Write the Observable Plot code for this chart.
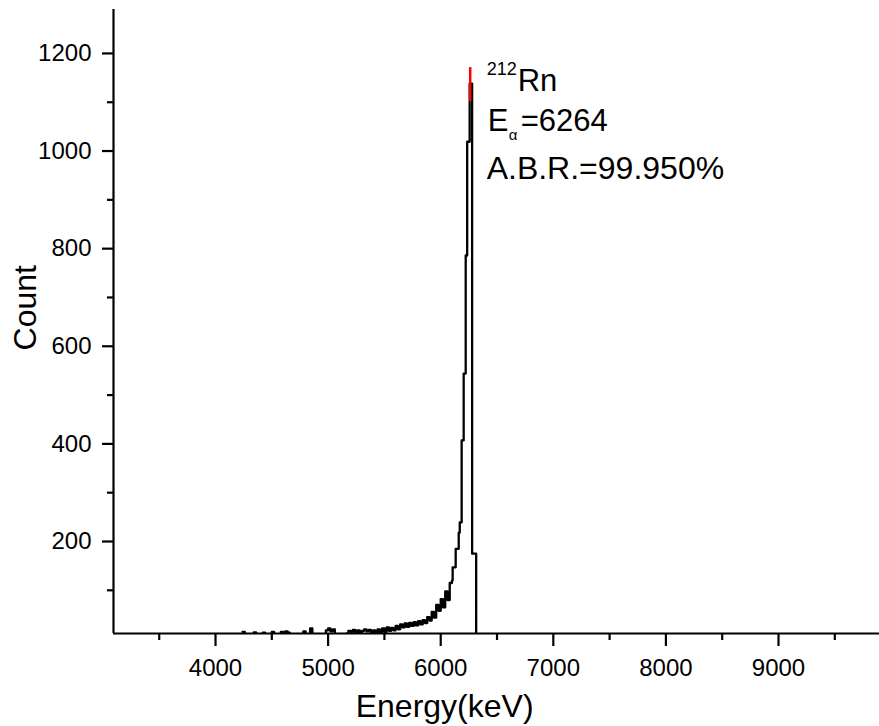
<!DOCTYPE html>
<html>
<head>
<meta charset="utf-8">
<script src="https://cdn.jsdelivr.net/npm/d3@7"></script>
<script src="https://cdn.jsdelivr.net/npm/@observablehq/plot@0.6"></script>
<style>
  html, body { margin: 0; padding: 0; background: #fff; }
  #chart svg { display: block; }
</style>
</head>
<body>
<div id="chart"></div>
<script>
// ---- data ----
// tail of the spectrum: regular 20 keV bins starting at 4240 keV
const tailStart = 4240;
const tailBinWidth = 20;
const tailCounts = [
  15, 2, 0, 4, 1, 14, 3, 0, 2, 13,
  1, 4, 2, 15, 3, 5, 2, 15, 14, 16,
  13, 4, 6, 3, 5, 7, 4, 16, 6, 5,
  22, 8, 6, 9, 5, 8, 7, 18, 22, 16,
  20, 9, 8, 10, 7, 9, 11, 17, 15, 19,
  14, 18, 13, 17, 20, 16, 19, 14, 18, 12,
  20, 14, 22, 15, 24, 17, 23, 18, 27, 20,
  30, 24, 32, 25, 33, 27, 35, 28, 37, 30,
  39, 33, 45, 38, 56, 44, 70, 58, 82, 65,
  98, 80, 115
];
// peak region: bin edges (keV) and counts
const peakEdges  = [6100, 6106, 6133, 6160, 6169, 6186, 6204, 6222, 6235, 6257, 6279, 6315];
const peakCounts = [ 120,  147,  185,  218,  239,  407,  544,  786, 1019, 1138,  175,    0];

// red peak marker
const redEnergy = [6262];
const redLow = 1101;
const redHigh = 1171;

// axes
const xDomain = [3094, 9897];
const yDomain = [11.5, 1290];
const xMajor = [4000, 5000, 6000, 7000, 8000, 9000];
const xMinor = [3500, 4500, 5500, 6500, 7500, 8500, 9500];
const yMajor = [200, 400, 600, 800, 1000, 1200];
const yMinor = [100, 300, 500, 700, 900, 1100];
const xLabel = "Energy(keV)";
const yLabel = "Count";

// annotation
const isotopeMass = "212";
const isotopeName = "Rn";
const energySymbol = "E";
const energySub = "\u03b1";
const energyValue = "=6264";
const branchText = "A.B.R.=99.950%";
const annotX = 6408;

// ---- build table ----
const spectrum = tailCounts.map((c, i) => ({energy: tailStart + i * tailBinWidth, count: c}))
  .concat(peakEdges.map((e, i) => ({energy: e, count: peakCounts[i]})))
  .concat([{energy: 6400, count: 0}]);

const font = "'Liberation Sans', Arial, sans-serif";

const chart = Plot.plot({
  width: 879,
  height: 726,
  marginLeft: 113,
  marginRight: 0,
  marginTop: 9,
  marginBottom: 93,
  style: {fontFamily: font, color: "#000", background: "#fff"},
  x: {domain: xDomain, axis: null},
  y: {domain: yDomain, axis: null},
  marks: [
    Plot.line(spectrum, {x: "energy", y: "count", curve: "step-after", stroke: "#000", strokeWidth: 2.3, clip: true}),
    Plot.ruleX(redEnergy, {x: d => d, y1: redLow, y2: redHigh, stroke: "#ff0000", strokeWidth: 2.5}),
    // axis lines
    Plot.ruleX([xDomain[0]], {stroke: "#000", strokeWidth: 2.2}),
    Plot.ruleY([yDomain[0]], {stroke: "#000", strokeWidth: 2.2}),
    // x ticks
    Plot.axisX({ticks: xMajor, tickSize: 13, tickPadding: 12, fontSize: 24, strokeWidth: 2.2, tickFormat: d => String(d), label: null}),
    Plot.axisX({ticks: xMinor, tickSize: 7, strokeWidth: 2.2, tickFormat: null, text: null, label: null}),
    // y ticks
    Plot.axisY({ticks: yMajor, tickSize: 11, tickPadding: 11, fontSize: 24, strokeWidth: 2.2, tickFormat: d => String(d), label: null}),
    Plot.axisY({ticks: yMinor, tickSize: 6, strokeWidth: 2.2, tickFormat: null, text: null, label: null}),
    // axis titles
    Plot.text([xLabel], {x: 6035, frameAnchor: "bottom", text: d => d, dy: 83, lineAnchor: "bottom", textAnchor: "middle", fontSize: 32, fill: "#000"}),
    Plot.text([yLabel], {y: 679, frameAnchor: "left", text: d => d, dx: -78, rotate: -90, lineAnchor: "bottom", textAnchor: "middle", fontSize: 32, fill: "#000"}),
    // annotation
    Plot.text([isotopeMass], {x: annotX, y: 1155, text: d => d, textAnchor: "start", lineAnchor: "bottom", fontSize: 18, fill: "#000"}),
    Plot.text([isotopeName], {x: annotX, y: 1122, text: d => d, dx: 31, textAnchor: "start", lineAnchor: "bottom", fontSize: 31, fill: "#000"}),
    Plot.text([energySymbol], {x: annotX, y: 1042, text: d => d, dx: 1, textAnchor: "start", lineAnchor: "bottom", fontSize: 31, fill: "#000"}),
    Plot.text([energySub], {x: annotX, y: 1022, text: d => d, dx: 22, textAnchor: "start", lineAnchor: "bottom", fontSize: 15, fill: "#000"}),
    Plot.text([energyValue], {x: annotX, y: 1042, text: d => d, dx: 34, textAnchor: "start", lineAnchor: "bottom", fontSize: 31, fill: "#000"}),
    Plot.text([branchText], {x: annotX, y: 943.6, text: d => d, textAnchor: "start", lineAnchor: "bottom", fontSize: 32, fill: "#000"})
  ]
});
document.getElementById("chart").appendChild(chart);
</script>
</body>
</html>
